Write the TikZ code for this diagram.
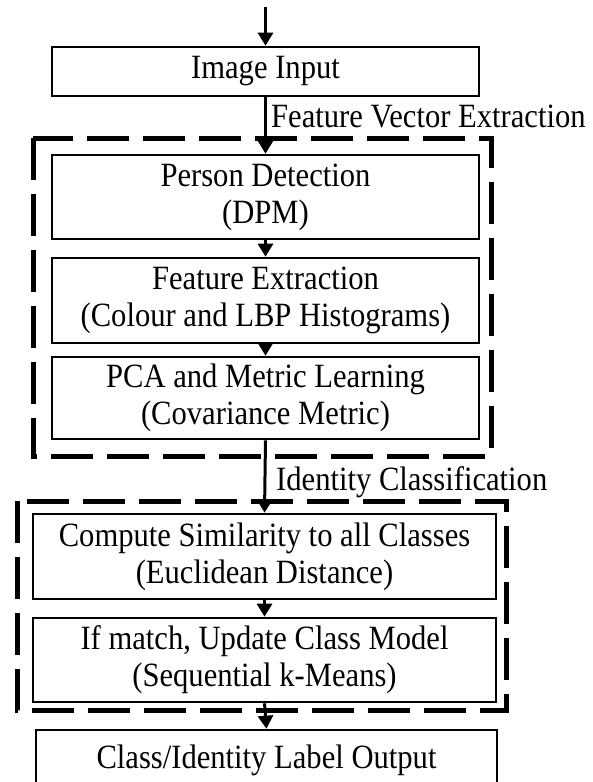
\documentclass[tikz,border=0pt]{standalone}
\usepackage{fontspec}
\setmainfont{Liberation Serif}[FakeStretch=0.9]
\usetikzlibrary{arrows.meta}
\begin{document}
\begin{tikzpicture}[x=1pt,y=-1pt,
  box/.style={draw, line width=2.6pt, align=center, inner sep=0pt, font=\fontsize{34}{37}\selectfont},
  lbl/.style={inner sep=0pt, font=\fontsize{34}{37}\selectfont, anchor=base west},
  arr/.style={line width=3pt, -{Triangle[length=13pt,width=15pt]}},
  grp/.style={draw, line width=5pt, dash pattern=on 42pt off 14pt}]
\useasboundingbox (0,0) rectangle (592,782);
\node[box, minimum width=427pt, minimum height=49pt] (img) at (265.5,71.5) {Image Input};
\node[box, minimum width=427pt, minimum height=84pt] (pd) at (265.5,197) {Person Detection\\(DPM)};
\node[box, minimum width=427pt, minimum height=85pt] (fe) at (265.5,300.5) {Feature Extraction\\(Colour and LBP Histograms)};
\node[box, minimum width=427pt, minimum height=82pt] (pca) at (265.5,398) {PCA and Metric Learning\\(Covariance Metric)};
\node[box, minimum width=463pt, minimum height=85pt] (cs) at (264.5,556.5) {Compute Similarity to all Classes\\(Euclidean Distance)};
\node[box, minimum width=463pt, minimum height=84pt] (um) at (264.5,660) {If match, Update Class Model\\(Sequential k-Means)};
\node[box, minimum width=461pt, minimum height=60pt] (out) at (266.5,760) {Class/Identity Label Output};
\draw[grp] (33,138) rectangle (491,456);
\draw[grp] (17,501) rectangle (506,710);
\coordinate (start) at (265.5,7);
\draw[arr] (start) -- (img.north);
\draw[arr] (img.south) -- (pd.north);
\draw[arr] (pd.south) -- (fe.north);
\draw[arr] (fe.south) -- (pca.north);
\draw[arr] (pca.south) -- (cs.north);
\draw[arr] (cs.south) -- (um.north);
\draw[arr] (um.south) -- (out.north);
\node[lbl] (l1) at (271,127) {Feature Vector Extraction};
\node[lbl] (l2) at (276,490) {Identity Classification};
\end{tikzpicture}
\end{document}
